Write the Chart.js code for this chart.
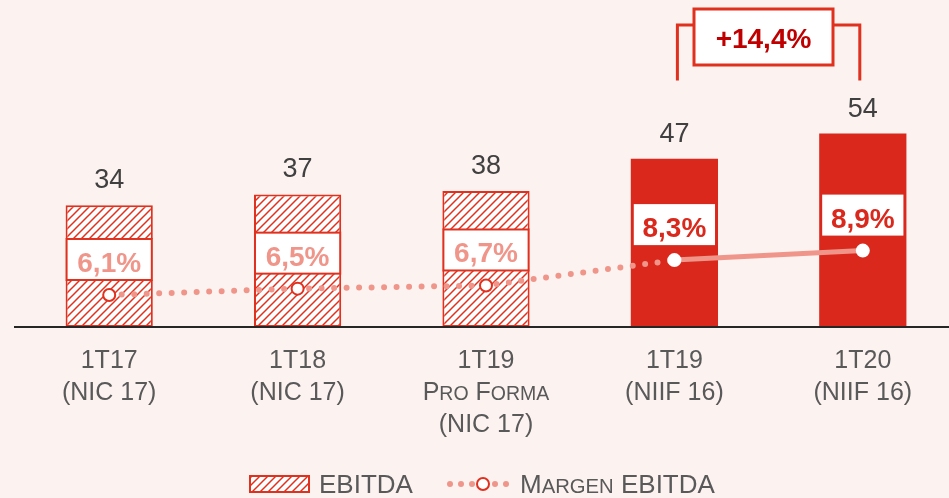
<!doctype html>
<html lang="es">
  <head>
    <meta charset="utf-8">
    <title>EBITDA y margen EBITDA</title>
    <style>
      * {
        margin: 0;
        padding: 0;
      }
      body {
        background: #FCF2F0;
        overflow: hidden;
        width: 949px;
        height: 498px;
      }
    </style>
  </head>
  <body>
    <canvas id="myChart" width="960" height="498"></canvas>
    <script src="https://cdn.jsdelivr.net/npm/chart.js"></script>
    <script>
    // data
    const categories = [
      ['1T17', '(NIC 17)'],
      ['1T18', '(NIC 17)'],
      ['1T19', 'Pro Forma', '(NIC 17)'],
      ['1T19', '(NIIF 16)'],
      ['1T20', '(NIIF 16)']
    ];
    const standard = ['NIC 17', 'NIC 17', 'NIC 17', 'NIIF 16', 'NIIF 16'];
    const ebitda = [34, 37, 38, 47, 54];
    const margin = [6.1, 6.5, 6.7, 8.3, 8.9];
    const growthLabel = '+14,4%';
    const legendLabels = ['EBITDA', 'Margen EBITDA'];

    const RED = '#DA291C';
    const LINE_RED = '#E0301E';
    const SALMON = '#F0958A';
    const DARK = '#404040';
    const GREY = '#595959';
    const FONT = "'Liberation Sans', Arial, sans-serif";

    const isOld = (i) => standard[i] === 'NIC 17';
    const pct = (v) => v.toFixed(1).replace('.', ',') + '%';

    const canvas = document.getElementById('myChart');
    const mainCtx = canvas.getContext('2d');

    // diagonal hatch fill
    function makeHatch() {
      const c = document.createElement('canvas');
      c.width = 8;
      c.height = 8;
      const g = c.getContext('2d');
      g.fillStyle = '#fff';
      g.fillRect(0, 0, 8, 8);
      g.strokeStyle = LINE_RED;
      g.lineWidth = 1.5;
      g.beginPath();
      g.moveTo(0, 8); g.lineTo(8, 0);
      g.moveTo(-2, 2); g.lineTo(2, -2);
      g.moveTo(6, 10); g.lineTo(10, 6);
      g.stroke();
      return mainCtx.createPattern(c, 'repeat');
    }
    const hatch = makeHatch();

    // text with small caps (lowercase letters drawn as smaller capitals)
    function drawCaps(ctx, text, x, baseline, size, align) {
      const parts = [];
      let total = 0;
      for (const ch of text) {
        const small = ch !== ch.toUpperCase();
        const s = small ? size * 0.78 : size;
        ctx.font = s + 'px ' + FONT;
        const w = ctx.measureText(ch.toUpperCase()).width;
        parts.push({ ch: ch.toUpperCase(), s, w });
        total += w;
      }
      let cx = align === 'center' ? x - total / 2 : x;
      ctx.textAlign = 'left';
      ctx.textBaseline = 'alphabetic';
      parts.forEach(p => {
        ctx.font = p.s + 'px ' + FONT;
        ctx.fillText(p.ch, cx, baseline);
        cx += p.w;
      });
    }

    // labels, boxes, bracket, axis line and legend
    const decorations = {
      id: 'decorations',
      afterDatasetsDraw(chart) {
        const { ctx, chartArea: { bottom }, scales: { x, y, y2 } } = chart;
        const bars = chart.getDatasetMeta(0).data;
        ctx.save();

        // axis line
        ctx.strokeStyle = '#262626';
        ctx.lineWidth = 2;
        ctx.beginPath();
        ctx.moveTo(14, bottom);
        ctx.lineTo(960, bottom);
        ctx.stroke();

        ebitda.forEach((v, i) => {
          const bar = bars[i];
          const cx = bar.x;
          const half = bar.width / 2;

          // value above bar
          ctx.font = '27px ' + FONT;
          ctx.fillStyle = DARK;
          ctx.textAlign = 'center';
          ctx.textBaseline = 'alphabetic';
          ctx.fillText(String(v), cx, y.getPixelForValue(v) - 17);

          // margin label box
          const py = y2.getPixelForValue(margin[i]);
          const bBottom = py - 15;
          const bTop = py - 56;
          const inset = isOld(i) ? 0 : 3;
          ctx.fillStyle = '#fff';
          ctx.fillRect(cx - half + inset, bTop, bar.width - inset * 2, bBottom - bTop);
          if (isOld(i)) {
            ctx.strokeStyle = LINE_RED;
            ctx.lineWidth = 2;
            ctx.strokeRect(cx - half + 1, bTop, bar.width - 2, bBottom - bTop);
          }
          ctx.font = 'bold 28px ' + FONT;
          ctx.fillStyle = isOld(i) ? SALMON : RED;
          ctx.fillText(pct(margin[i]), cx, bBottom - 8);

          // category labels
          ctx.fillStyle = GREY;
          categories[i].forEach((line, k) => {
            drawCaps(ctx, line, cx, bottom + 41 + k * 32, 25, 'center');
          });
        });

        // growth bracket
        const xl = bars[3].x + 3;
        const xr = bars[4].x - 3;
        const yTop = 25;
        const yEnd = y.getPixelForValue(ebitda[4]) - 54;
        const boxL = 694, boxR = 833;
        ctx.strokeStyle = LINE_RED;
        ctx.lineWidth = 3;
        ctx.beginPath();
        ctx.moveTo(xl, yEnd + 1); ctx.lineTo(xl, yTop); ctx.lineTo(boxL, yTop);
        ctx.moveTo(boxR, yTop); ctx.lineTo(xr, yTop); ctx.lineTo(xr, yEnd + 1);
        ctx.stroke();
        ctx.fillStyle = '#fff';
        ctx.fillRect(boxL, 9, boxR - boxL, 56);
        ctx.strokeRect(boxL, 9, boxR - boxL, 56);
        ctx.font = 'bold 28px ' + FONT;
        ctx.fillStyle = '#C00000';
        ctx.textAlign = 'center';
        ctx.fillText(growthLabel, (boxL + boxR) / 2, 48);

        // legend
        const ly = 484;
        ctx.fillStyle = hatch;
        ctx.fillRect(249, 475, 61, 18);
        ctx.strokeStyle = LINE_RED;
        ctx.lineWidth = 2;
        ctx.strokeRect(250, 476, 59, 16);
        ctx.fillStyle = GREY;
        drawCaps(ctx, legendLabels[0], 319, 493, 26, 'left');

        ctx.fillStyle = SALMON;
        [450, 461, 472, 495, 506].forEach(dx => {
          ctx.beginPath();
          ctx.arc(dx, ly, 3, 0, Math.PI * 2);
          ctx.fill();
        });
        ctx.beginPath();
        ctx.arc(483, ly, 6, 0, Math.PI * 2);
        ctx.fillStyle = '#fff';
        ctx.fill();
        ctx.strokeStyle = LINE_RED;
        ctx.lineWidth = 2;
        ctx.stroke();
        ctx.fillStyle = GREY;
        drawCaps(ctx, legendLabels[1], 520, 493, 26, 'left');

        ctx.restore();
      }
    };

    const data = {
      labels: categories.map(c => c.join(' ')),
      datasets: [{
        type: 'bar',
        label: legendLabels[0],
        data: ebitda,
        yAxisID: 'y',
        order: 1,
        backgroundColor: (c) => isOld(c.dataIndex) ? hatch : RED,
        borderColor: LINE_RED,
        borderWidth: (c) => isOld(c.dataIndex) ? 2 : 0,
        borderSkipped: false,
        categoryPercentage: 1,
        barPercentage: 0.463
      }, {
        type: 'line',
        label: legendLabels[1],
        data: margin,
        yAxisID: 'y2',
        order: 0,
        borderColor: SALMON,
        borderWidth: 6,
        borderCapStyle: 'round',
        borderDash: [0, 12.5],
        segment: {
          borderDash: (c) => isOld(c.p0DataIndex) ? undefined : [],
          borderWidth: (c) => isOld(c.p0DataIndex) ? undefined : 5
        },
        pointRadius: 6,
        pointHoverRadius: 6,
        pointBackgroundColor: '#fff',
        pointBorderColor: margin.map((v, i) => isOld(i) ? LINE_RED : '#fff'),
        pointBorderWidth: 2,
        tension: 0
      }]
    };

    const config = {
      data,
      options: {
        responsive: false,
        animation: false,
        layout: {
          autoPadding: false,
          padding: { left: 15, right: 3, top: 0, bottom: 171 }
        },
        scales: {
          x: { display: false, offset: true },
          y: { display: false, min: 0, max: 91.3 },
          y2: { display: false, min: 4.08, max: 24.71, position: 'right' }
        },
        plugins: {
          legend: { display: false },
          tooltip: { enabled: false }
        }
      },
      plugins: [decorations]
    };

    const myChart = new Chart(canvas, config);
    </script>
  </body>
</html>
